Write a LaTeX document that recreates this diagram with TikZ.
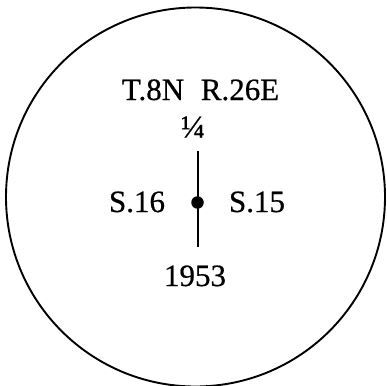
\documentclass[tikz,border=0pt]{standalone}
\usepackage{fontspec}
\setmainfont{Liberation Serif}[FakeBold=0.6]
\begin{document}
\begin{tikzpicture}[x=1pt,y=-1pt,
  lbl/.style={font=\fontsize{31}{33}\selectfont\addfontfeature{FakeBold=0.6}, inner sep=0pt, anchor=base}]
\useasboundingbox (0,0) rectangle (387,385);
\node[draw, line width=1.9pt, circle, minimum size=379pt, inner sep=0pt] (ring) at (195.5,197) {};
\node[lbl] (twp) at (153,100) {T.8N};
\node[lbl] (rng) at (240,100) {R.26E};
\node[font=\fontsize{32}{34}\selectfont\addfontfeature{FakeBold=0.6}, inner sep=0pt] (qtr) at (193,127) {¼};
\node[lbl] (s16) at (137,212) {S.16};
\node[lbl] (s15) at (257,212) {S.15};
\node[lbl] (yr) at (195,286) {1953};
\coordinate (top) at (198,151);
\coordinate (bot) at (198,247);
\node[circle, fill, inner sep=0pt, minimum size=12.5pt] (dot) at (197.5,202.5) {};
\draw[line width=2.8pt] (top) -- (bot);
\end{tikzpicture}
\end{document}
